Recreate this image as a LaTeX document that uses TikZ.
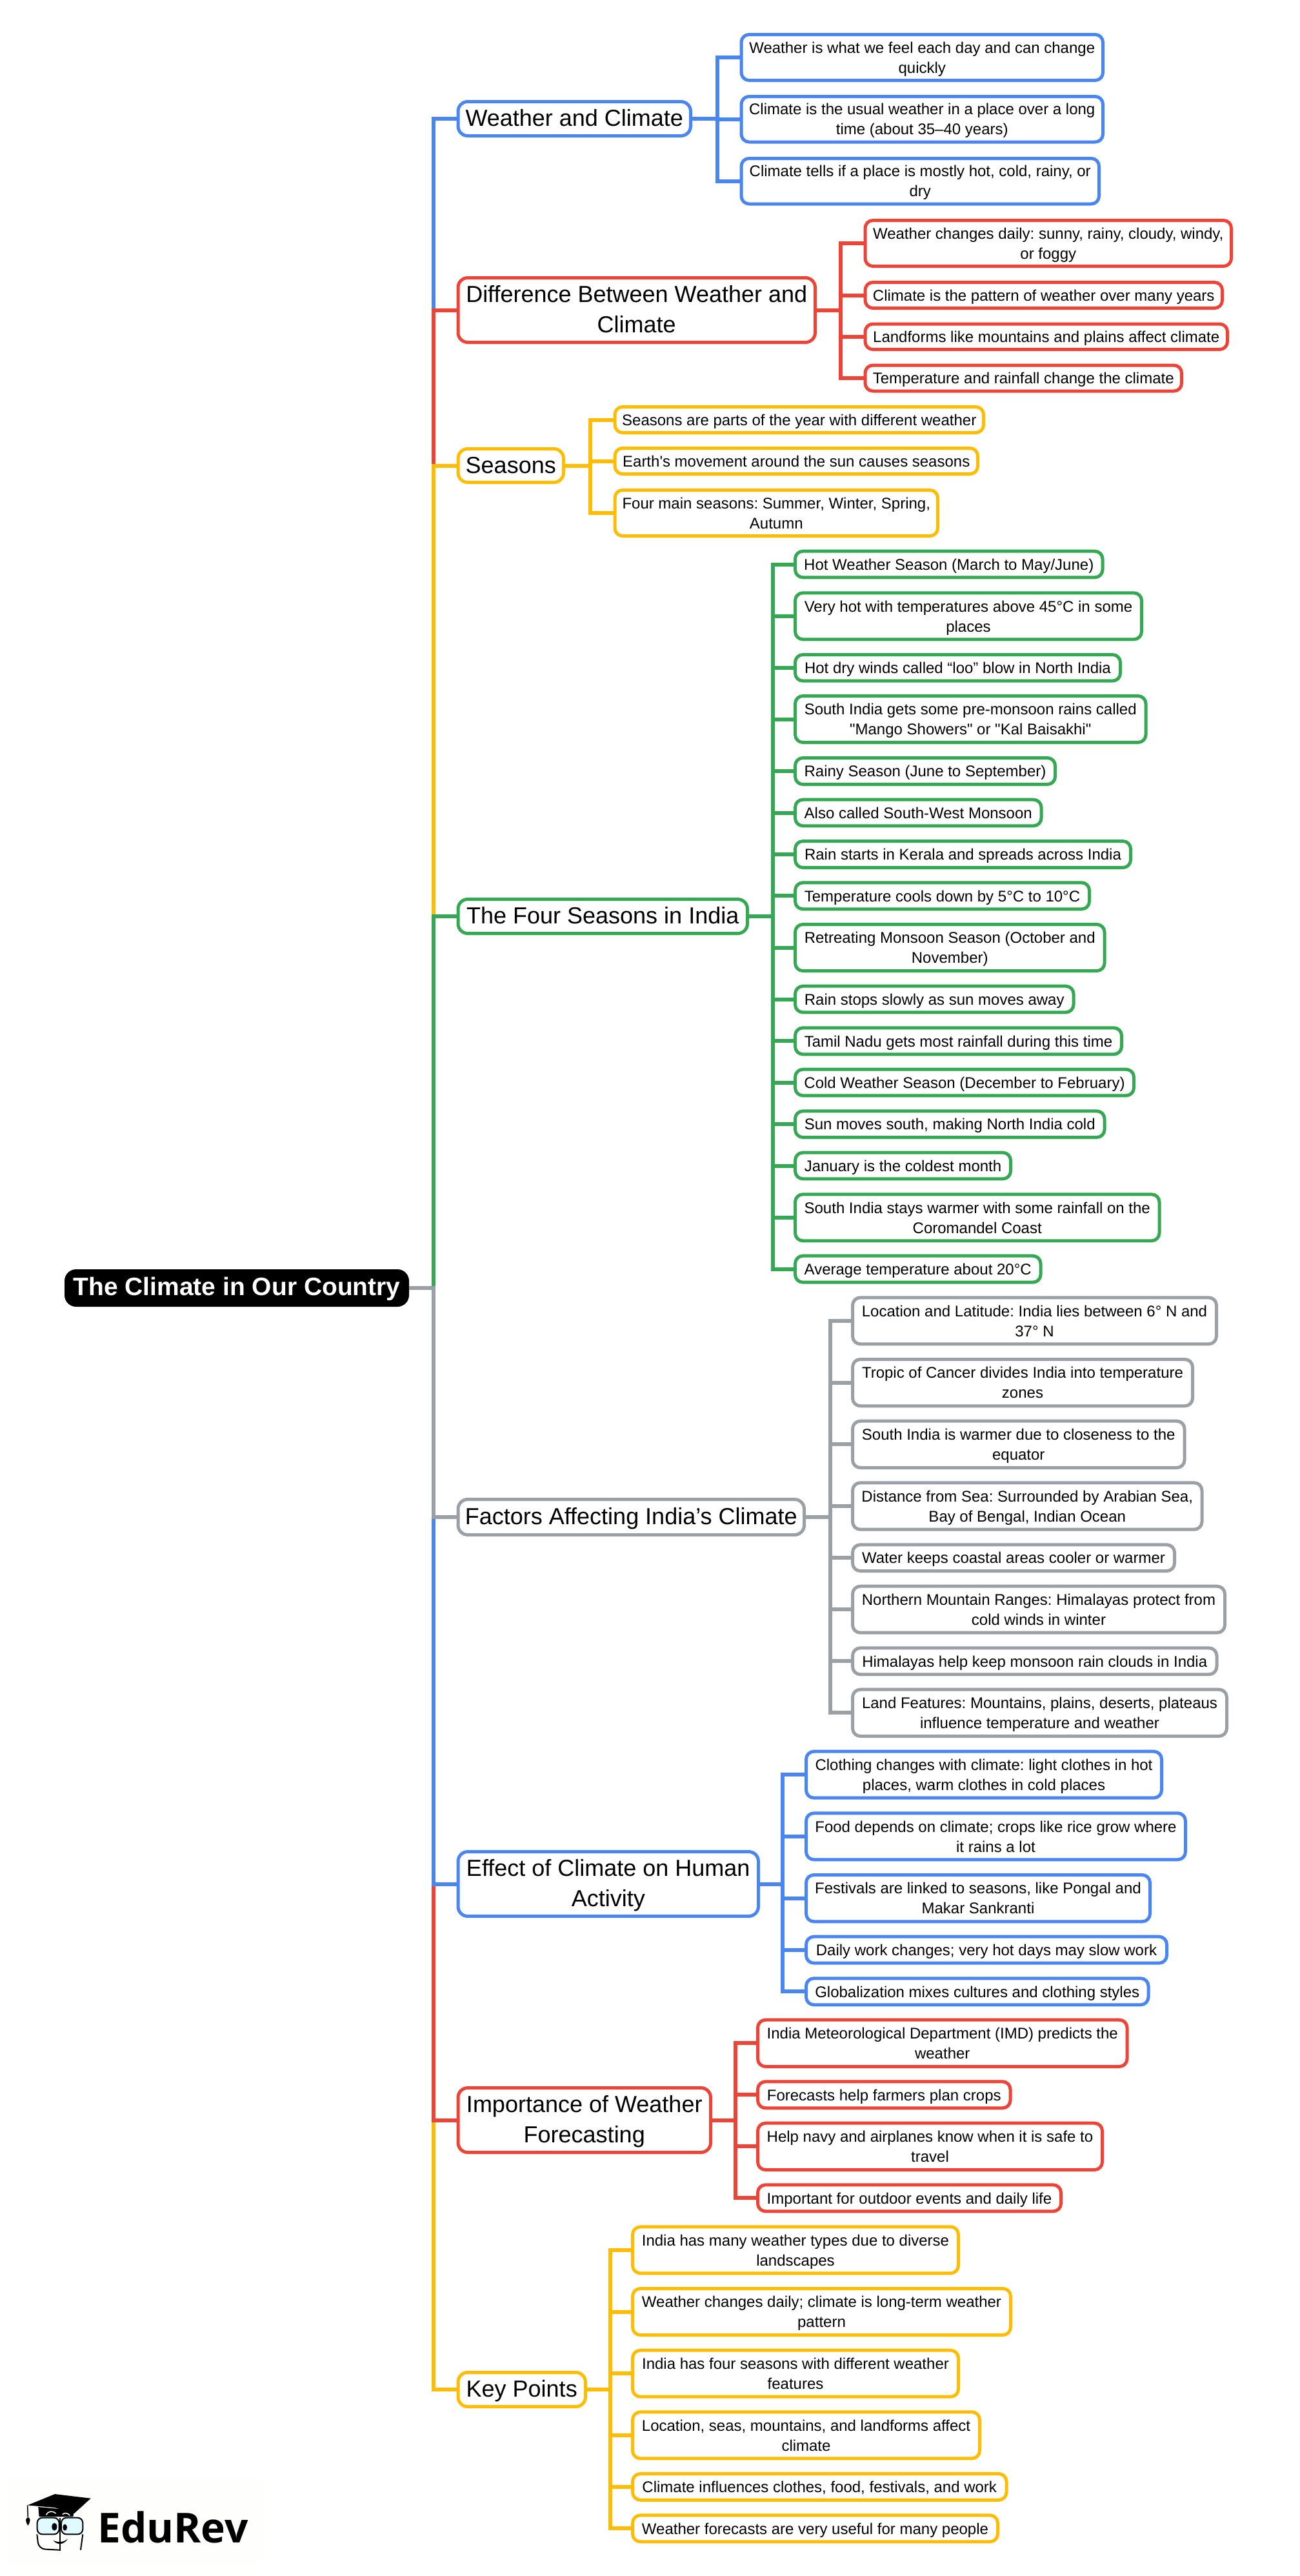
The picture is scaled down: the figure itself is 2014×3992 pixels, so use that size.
\documentclass[tikz,border=0pt]{standalone}
\usepackage{fontspec}
\setmainfont{Liberation Sans}[Ligatures=TeXOff]
\newfontfamily\logofont{Open Sans}
\definecolor{cblue}{HTML}{4A86F2}
\definecolor{cred}{HTML}{EE4438}
\definecolor{cyel}{HTML}{FFBC04}
\definecolor{cgrn}{HTML}{34A853}
\definecolor{cgry}{HTML}{9AA0A6}
\definecolor{clogobg}{HTML}{FEFEFC}
\newcommand{\topstrut}{\rule{0pt}{\dimexpr.7\baselineskip+5pt\relax}}
\tikzset{
 kidbox/.style={rectangle,rounded corners=12pt,line width=5pt,fill=white,inner sep=0pt,outer sep=0pt,align=center,font=\fontsize{24}{31}\selectfont\frenchspacing},
 mainbox/.style={rectangle,rounded corners=15pt,line width=5pt,fill=white,inner sep=0pt,outer sep=0pt,align=center,font=\fontsize{36}{47}\selectfont\frenchspacing},
 rootbox/.style={rectangle,rounded corners=18pt,fill=black,text=white,inner sep=0pt,outer sep=0pt,align=center,font=\fontsize{39}{47}\selectfont\bfseries\frenchspacing},
 link/.style={line width=6pt}
}
\newcommand{\boxat}[8]{\pgfmathsetmacro\bw{#5-#4-5+3.5}\pgfmathsetmacro\bh{#7-#6-5}\pgfmathsetmacro\cx{(#4+#5-3.5)/2}\pgfmathsetmacro\cy{(#6+#7)/2}\node[#1,draw=#3,minimum width=\bw pt,minimum height=\bh pt] (#2) at (\cx,\cy) {\topstrut #8\strut};}
\newcommand{\conn}[4]{\draw[link,#1] (#2.east) -- (#2.east -| #3) |- (#4.west);}
\begin{document}
\begin{tikzpicture}[x=1pt,y=-1pt]
\useasboundingbox (0,0) rectangle (2014,3992);
\fill[white] (0,0) rectangle (2014,3992);
% logo
\fill[clogobg] (13,3838) rectangle (408,3975);
\node[inner sep=0pt,anchor=base west,font=\logofont\bfseries\fontsize{64}{64}\selectfont] (logo) at (151,3940) {EduRev};
\begin{scope}[shift={(30,3850)},scale=0.3333]
 \fill[black] (88,105) -- (92,150) -- (250,150) -- (255,120) -- cycle;
 \fill[black] (38,97) -- (165,45) -- (332,65) -- (255,135) -- (165,108) -- cycle;
 \draw[line width=1.5pt] (38,97) -- (40,155);
 \fill[black] (30,165) .. controls (35,150) and (47,150) .. (50,165) .. controls (50,175) and (44,185) .. (40,192) .. controls (36,185) and (30,175) .. cycle;
 \draw[white,line width=1.5pt] (125,142) .. controls (135,122) and (155,122) .. (170,135);
 \draw[white,line width=1.5pt] (200,140) .. controls (210,130) and (225,132) .. (235,145);
 \draw[black,line width=2pt,fill=blue!12!cyan!12!white,rounded corners=8pt] (83,155) rectangle (185,232);
 \draw[black,line width=2pt,fill=blue!12!cyan!12!white,rounded corners=8pt] (195,155) rectangle (295,232);
 \draw[black,line width=2pt,rounded corners=10pt] (186,305) -- (90,300) -- (82,232);
 \draw[black,line width=2pt,rounded corners=6pt] (295,232) -- (285,305);
 \draw[black,line width=2pt] (190,155) -- (190,310);
 \fill[black] (163,197) ellipse (12 and 18);
 \fill[black] (212,200) ellipse (10 and 15);
 \fill[black] (158,260) .. controls (180,272) and (205,270) .. (225,253) .. controls (210,280) and (175,285) .. cycle;
\end{scope}
% root and main branches
\node[rootbox,minimum width=534pt,minimum height=58pt] (root) at (367,1996) {\topstrut The Climate in Our Country\strut};
\coordinate (t) at (672,1996);
\boxat{mainbox}{m1}{cblue}{711}{1073}{155}{213}{Weather and Climate}
\boxat{mainbox}{m2}{cred}{711}{1266}{428}{533}{Difference Between Weather and\\Climate}
\boxat{mainbox}{m3}{cyel}{711}{876}{693}{750}{Seasons}
\boxat{mainbox}{m4}{cgrn}{711}{1161}{1391}{1449}{The Four Seasons in India}
\boxat{mainbox}{m5}{cgry}{711}{1249}{2321}{2381}{Factors Affecting India’s Climate}
\boxat{mainbox}{m6}{cblue}{711}{1178}{2867}{2972}{Effect of Climate on Human\\Activity}
\boxat{mainbox}{m7}{cred}{711}{1104}{3233}{3338}{Importance of Weather\\Forecasting}
\boxat{mainbox}{m8}{cyel}{711}{910}{3674}{3732}{Key Points}
% trunk
\conn{cblue}{root}{t}{m1}
\conn{cred}{root}{t}{m2}
\conn{cyel}{root}{t}{m3}
\conn{cgrn}{root}{t}{m4}
\conn{cyel}{root}{t}{m8}
\conn{cred}{root}{t}{m7}
\conn{cblue}{root}{t}{m6}
\conn{cgry}{root}{t}{m5}
% junctions
\coordinate (j1) at (1112,0);
\coordinate (j2) at (1303,0);
\coordinate (j3) at (915,0);
\coordinate (j4) at (1197.5,0);
\coordinate (j5) at (1287,0);
\coordinate (j6) at (1213,0);
\coordinate (j7) at (1139.5,0);
\coordinate (j8) at (946,0);
% group 1
\boxat{kidbox}{a1}{cblue}{1150}{1712}{51}{127}{Weather is what we feel each day and can change\\quickly}
\boxat{kidbox}{a2}{cblue}{1150}{1712}{147}{222.5}{Climate is the usual weather in a place over a long\\time (about 35–40 years)}
\boxat{kidbox}{a3}{cblue}{1150}{1706}{243}{318.5}{Climate tells if a place is mostly hot, cold, rainy, or\\dry}
\conn{cblue}{m1}{j1}{a1}\conn{cblue}{m1}{j1}{a2}\conn{cblue}{m1}{j1}{a3}
% group 2
\boxat{kidbox}{b1}{cred}{1342}{1911}{339}{415}{Weather changes daily: sunny, rainy, cloudy, windy,\\or foggy}
\boxat{kidbox}{b2}{cred}{1342}{1897}{435}{480}{Climate is the pattern of weather over many years}
\boxat{kidbox}{b3}{cred}{1342}{1905}{499.5}{544}{Landforms like mountains and plains affect climate}
\boxat{kidbox}{b4}{cred}{1342}{1834}{563.5}{608.5}{Temperature and rainfall change the climate}
\conn{cred}{m2}{j2}{b1}\conn{cred}{m2}{j2}{b2}\conn{cred}{m2}{j2}{b3}\conn{cred}{m2}{j2}{b4}
% group 3
\boxat{kidbox}{c1}{cyel}{954}{1527}{628}{673}{Seasons are parts of the year with different weather}
\boxat{kidbox}{c2}{cyel}{954}{1518}{692}{737}{Earth's movement around the sun causes seasons}
\boxat{kidbox}{c3}{cyel}{954}{1456}{757}{833}{Four main seasons: Summer, Winter, Spring,\\Autumn}
\conn{cyel}{m3}{j3}{c1}\conn{cyel}{m3}{j3}{c2}\conn{cyel}{m3}{j3}{c3}
% group 4
\boxat{kidbox}{d1}{cgrn}{1233.5}{1711.5}{851.7}{897.3}{Hot Weather Season (March to May/June)}
\boxat{kidbox}{d2}{cgrn}{1233.5}{1772}{916.3}{993.3}{Very hot with temperatures above 45°C in some\\places}
\boxat{kidbox}{d3}{cgrn}{1233.5}{1739}{1012}{1057.7}{Hot dry winds called “loo” blow in North India}
\boxat{kidbox}{d4}{cgrn}{1233.5}{1778.5}{1076}{1153}{South India gets some pre-monsoon rains called\\"Mango Showers" or "Kal Baisakhi"}
\boxat{kidbox}{d5}{cgrn}{1233.5}{1638}{1172}{1218}{Rainy Season (June to September)}
\boxat{kidbox}{d6}{cgrn}{1233.5}{1616.5}{1236.7}{1282.3}{Also called South-West Monsoon}
\boxat{kidbox}{d7}{cgrn}{1233.5}{1755}{1301}{1347}{Rain starts in Kerala and spreads across India}
\boxat{kidbox}{d8}{cgrn}{1233.5}{1691}{1365.3}{1411.3}{Temperature cools down by 5°C to 10°C}
\boxat{kidbox}{d9}{cgrn}{1233.5}{1714.5}{1430}{1507}{Retreating Monsoon Season (October and\\November)}
\boxat{kidbox}{d10}{cgrn}{1233.5}{1666.5}{1525.7}{1571.3}{Rain stops slowly as sun moves away}
\boxat{kidbox}{d11}{cgrn}{1233.5}{1741}{1590.3}{1636.3}{Tamil Nadu gets most rainfall during this time}
\boxat{kidbox}{d12}{cgrn}{1233.5}{1760}{1654.7}{1700.3}{Cold Weather Season (December to February)}
\boxat{kidbox}{d13}{cgrn}{1233.5}{1714.5}{1719.3}{1765}{Sun moves south, making North India cold}
\boxat{kidbox}{d14}{cgrn}{1233.5}{1569}{1783.7}{1829.3}{January is the coldest month}
\boxat{kidbox}{d15}{cgrn}{1233.5}{1799.5}{1848.3}{1925.3}{South India stays warmer with some rainfall on the\\Coromandel Coast}
\boxat{kidbox}{d16}{cgrn}{1233.5}{1615.5}{1943.7}{1989.7}{Average temperature about 20°C}
\foreach \k in {d1,d2,d3,d4,d5,d6,d7,d8,d9,d10,d11,d12,d13,d14,d15,d16}{\conn{cgrn}{m4}{j4}{\k}}
% group 5
\boxat{kidbox}{e1}{cgry}{1322.5}{1888}{2008.3}{2085.3}{Location and Latitude: India lies between 6° N and\\37° N}
\boxat{kidbox}{e2}{cgry}{1322.5}{1851}{2104}{2181.3}{Tropic of Cancer divides India into temperature\\zones}
\boxat{kidbox}{e3}{cgry}{1322.5}{1838.5}{2199.7}{2277}{South India is warmer due to closeness to the\\equator}
\boxat{kidbox}{e4}{cgry}{1322.5}{1865.5}{2295.3}{2372.7}{Distance from Sea: Surrounded by Arabian Sea,\\Bay of Bengal, Indian Ocean}
\boxat{kidbox}{e5}{cgry}{1322.5}{1823}{2391.3}{2437}{Water keeps coastal areas cooler or warmer}
\boxat{kidbox}{e6}{cgry}{1322.5}{1901}{2455.7}{2532.7}{Northern Mountain Ranges: Himalayas protect from\\cold winds in winter}
\boxat{kidbox}{e7}{cgry}{1322.5}{1888.5}{2551.3}{2597.3}{Himalayas help keep monsoon rain clouds in India}
\boxat{kidbox}{e8}{cgry}{1322.5}{1904}{2615.7}{2693}{Land Features: Mountains, plains, deserts, plateaus\\influence temperature and weather}
\foreach \k in {e1,e2,e3,e4,e5,e6,e7,e8}{\conn{cgry}{m5}{j5}{\k}}
% group 6
\boxat{kidbox}{f1}{cblue}{1250.5}{1803}{2711.7}{2788.7}{Clothing changes with climate: light clothes in hot\\places, warm clothes in cold places}
\boxat{kidbox}{f2}{cblue}{1250.5}{1840}{2807.3}{2884.3}{Food depends on climate; crops like rice grow where\\it rains a lot}
\boxat{kidbox}{f3}{cblue}{1250.5}{1785}{2903}{2980.3}{Festivals are linked to seasons, like Pongal and\\Makar Sankranti}
\boxat{kidbox}{f4}{cblue}{1250.5}{1811}{2998.7}{3044.7}{Daily work changes; very hot days may slow work}
\boxat{kidbox}{f5}{cblue}{1250.5}{1782.5}{3063.3}{3109.3}{Globalization mixes cultures and clothing styles}
\foreach \k in {f1,f2,f3,f4,f5}{\conn{cblue}{m6}{j6}{\k}}
% group 7
\boxat{kidbox}{g1}{cred}{1175.5}{1749.5}{3127.7}{3205}{India Meteorological Department (IMD) predicts the\\weather}
\boxat{kidbox}{g2}{cred}{1175.5}{1568.5}{3223.3}{3269.3}{Forecasts help farmers plan crops}
\boxat{kidbox}{g3}{cred}{1175.5}{1711}{3287.7}{3365}{Help navy and airplanes know when it is safe to\\travel}
\boxat{kidbox}{g4}{cred}{1175.5}{1647}{3383.3}{3429.3}{Important for outdoor events and daily life}
\foreach \k in {g1,g2,g3,g4}{\conn{cred}{m7}{j7}{\k}}
% group 8
\boxat{kidbox}{h1}{cyel}{981.5}{1488}{3448.3}{3525.3}{India has many weather types due to diverse\\landscapes}
\boxat{kidbox}{h2}{cyel}{981.5}{1569}{3544}{3621}{Weather changes daily; climate is long-term weather\\pattern}
\boxat{kidbox}{h3}{cyel}{981.5}{1488}{3639.7}{3716.7}{India has four seasons with different weather\\features}
\boxat{kidbox}{h4}{cyel}{981.5}{1521}{3735.3}{3812.3}{Location, seas, mountains, and landforms affect\\climate}
\boxat{kidbox}{h5}{cyel}{981.5}{1562.5}{3831}{3876.7}{Climate influences clothes, food, festivals, and work}
\boxat{kidbox}{h6}{cyel}{981.5}{1549}{3895.3}{3941.3}{Weather forecasts are very useful for many people}
\foreach \k in {h1,h2,h3,h4,h5,h6}{\conn{cyel}{m8}{j8}{\k}}
\end{tikzpicture}
\end{document}
